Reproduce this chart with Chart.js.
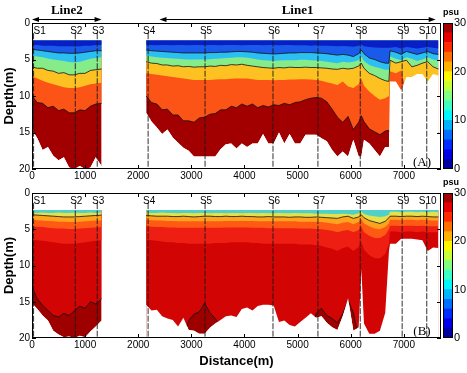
<!DOCTYPE html>
<html>
<head>
<meta charset="utf-8">
<title>Salinity sections</title>
<script src="https://cdn.jsdelivr.net/npm/chart.js@4.4.1/dist/chart.umd.min.js"></script>
<style>
  body { margin: 0; background: #fff; }
  #wrap { position: relative; width: 467px; height: 373px; overflow: hidden; }
  #wrap canvas { position: absolute; }
</style>
</head>
<body>
<div id="wrap">
  <canvas id="sectionA" width="442" height="182" style="left:0px;top:0px"></canvas>
  <canvas id="barA" width="26" height="182" style="left:441px;top:0px"></canvas>
  <canvas id="sectionB" width="442" height="193" style="left:0px;top:180px"></canvas>
  <canvas id="barB" width="26" height="193" style="left:441px;top:180px"></canvas>
</div>
<script>
// stations and axes
const stationNames = ["S1", "S2", "S3", "S4", "S5", "S6", "S7", "S8", "S9", "S10"];
const stationDist = [30, 815, 1228, 2186, 3258, 4537, 5383, 6180, 6969, 7432];
const stationTop = 1.4;
const distTicks = [0, 1000, 2000, 3000, 4000, 5000, 6000, 7000];
const depthTicks = [0, 5, 10, 15, 20];
const psuTicks = [0, 10, 20, 30];
const psuEdges = [0, 2, 4, 6, 8, 10, 12, 14, 16, 18, 20, 22, 24, 26, 28, 30];
const lineNames = ["Line2", "Line1"];
const lineSpans = [[0, 1310], [2400, 7600]];

// sample positions along each line (m)
const line2Dist = [0, 100, 200, 300, 400, 500, 600, 700, 800, 900, 1000, 1100, 1200, 1310];
const line1Dist = [
  2150, 2250, 2350, 2450, 2550, 2650, 2750, 2850, 2950, 3050,
  3150, 3250, 3350, 3450, 3550, 3650, 3750, 3850, 3950, 4050,
  4150, 4250, 4350, 4450, 4550, 4650, 4750, 4850, 4950, 5050,
  5150, 5250, 5350, 5450, 5550, 5650, 5750, 5850, 5950, 6050,
  6150, 6200, 6250, 6350, 6450, 6550, 6650, 6720, 6740, 6850,
  6950, 7050, 7150, 7250, 7350, 7450, 7550, 7650,
];

// top of the data (m)
const topA = 2.4;
const topB = 2.35;

// (A) lower edge depth of each salinity band, Line2
const a2Navy = [3.0, 3.0, 3.1, 3.1, 3.1, 3.2, 3.2, 3.2, 3.2, 3.2, 3.1, 3.1, 3.0, 3.0];
const a2Blue = [3.6, 3.7, 3.8, 3.9, 4.0, 4.1, 4.1, 4.15, 4.15, 4.1, 4.0, 3.9, 3.8, 3.8];
const a2Cyan = [4.5, 4.6, 4.7, 4.85, 5.0, 5.1, 5.2, 5.35, 5.4, 5.3, 5.1, 4.9, 4.8, 4.7];
const a2Green = [6.0, 6.2, 6.2, 6.5, 6.6, 6.9, 6.8, 7.1, 7.1, 6.9, 6.9, 6.5, 6.4, 6.3];
const a2Yellow = [7.3, 7.6, 7.9, 8.2, 8.4, 8.6, 8.8, 8.9, 8.9, 8.8, 8.6, 8.4, 8.3, 8.2];
const a2Orange = [10.0, 10.9, 11.0, 11.6, 11.4, 12.0, 11.8, 12.3, 12.3, 11.9, 12.0, 11.4, 11.1, 11.0];
const a2Bottom = [14.6, 15.8, 17.4, 17.0, 18.2, 18.8, 18.4, 19.8, 20, 19.6, 20, 19.8, 18.4, 19.6];

// (A) Line1
const a1Navy = [
  3.0, 3.0, 3.05, 3.0, 3.0, 3.05, 3.0, 3.0, 3.05, 3.0,
  3.0, 3.05, 3.0, 3.0, 3.05, 3.0, 3.0, 3.0, 3.05, 3.0,
  3.0, 3.0, 3.05, 3.0, 3.0, 3.05, 3.0, 3.0, 3.05, 3.05,
  3.05, 3.1, 3.05, 3.1, 3.1, 3.15, 3.2, 3.15, 3.2, 3.25,
  3.1, 2.95, 3.2, 3.3, 3.35, 3.4, 3.4, 3.4, 3.4, 3.3,
  3.5, 3.3, 3.4, 3.5, 3.4, 3.3, 3.4, 3.5,
];
const a1Blue = [
  3.7, 3.8, 3.85, 3.9, 3.95, 4.0, 4.05, 4.1, 4.1, 4.1,
  4.1, 4.1, 4.05, 4.05, 4.0, 4.0, 3.95, 3.9, 3.9, 3.95,
  4.0, 4.1, 4.15, 4.2, 4.25, 4.2, 4.15, 4.1, 4.1, 4.05,
  4.05, 4.05, 4.1, 4.15, 4.2, 4.3, 4.4, 4.3, 4.4, 4.6,
  4.2, 3.7, 4.2, 4.8, 5.0, 5.3, 5.5, 5.5, 3.8, 4.0,
  4.3, 3.9, 4.1, 4.3, 4.1, 3.9, 4.2, 4.3,
];
const a1Cyan = [
  4.5, 4.6, 4.7, 4.75, 4.8, 4.85, 4.9, 4.95, 5.0, 5.0,
  5.0, 5.0, 4.95, 4.9, 4.85, 4.8, 4.75, 4.7, 4.7, 4.75,
  4.85, 5.0, 5.1, 5.15, 5.2, 5.15, 5.1, 5.1, 5.1, 5.05,
  5.05, 5.1, 5.15, 5.2, 5.3, 5.4, 5.5, 5.3, 5.4, 5.3,
  5.1, 4.6, 5.2, 5.75, 6.0, 6.2, 6.4, 6.4, 4.6, 4.9,
  5.1, 4.7, 4.9, 5.2, 5.0, 4.7, 5.0, 5.2,
];
const a1Green = [
  5.3, 5.5, 5.55, 5.75, 5.75, 5.9, 5.85, 6.0, 5.95, 6.05,
  6.0, 6.0, 5.9, 5.95, 5.8, 5.85, 5.7, 5.75, 5.65, 5.8,
  5.9, 6.0, 6.1, 6.15, 6.2, 6.1, 6.15, 6.05, 6.1, 6.1,
  6.05, 6.1, 6.1, 6.15, 6.2, 6.3, 6.35, 6.2, 6.3, 6.2,
  5.9, 5.5, 6.2, 6.9, 7.2, 7.6, 7.9, 8.0, 5.1, 5.5,
  5.3, 5.1, 6.0, 5.8, 5.5, 5.3, 6.0, 6.3,
];
const a1Yellow = [
  6.9, 7.0, 7.1, 7.2, 7.3, 7.4, 7.5, 7.6, 7.7, 7.8,
  7.8, 7.8, 7.8, 7.75, 7.7, 7.7, 7.65, 7.6, 7.6, 7.6,
  7.7, 7.8, 7.8, 7.8, 7.85, 7.8, 7.8, 7.75, 7.75, 7.7,
  7.7, 7.75, 7.8, 7.9, 8.1, 8.3, 8.5, 8.0, 8.7, 8.9,
  8.4, 7.6, 8.6, 9.4, 10.0, 10.5, 10.3, 10.0, 6.6, 6.9,
  6.5, 9.5, 9.5, 9.5, 9.5, 9.5, 9.5, 9.5,
];
const a1Orange = [
  10.0, 10.9, 11.1, 11.9, 11.8, 12.6, 12.6, 13.4, 13.4, 13.6,
  13.0, 12.9, 12.5, 12.4, 11.9, 11.9, 11.4, 11.6, 11.1, 11.4,
  11.1, 11.6, 11.3, 11.5, 11.2, 11.3, 11.0, 11.2, 10.9, 10.8,
  10.5, 10.3, 10.2, 10.3, 10.8, 11.8, 12.9, 13.6, 12.8, 14.6,
  13.6, 12.7, 13.5, 14.5, 14.9, 15.3, 14.8, 14.7, 15, 15,
  15, 15, 15, 15, 15, 15, 15, 15,
];
const a1Bottom = [
  12.3, 13.5, 14.3, 15.2, 14.6, 15.7, 16.4, 17.1, 17.5, 18.3,
  18.3, 18.3, 18.3, 18.3, 17.3, 16.6, 16.5, 17.2, 16.5, 17.0,
  16.5, 16.5, 15.2, 16.5, 16.5, 15.0, 16.5, 15.2, 16.5, 16.5,
  15.3, 15.3, 15.3, 15.8, 16.2, 17.4, 18.3, 17.6, 18.3, 16.0,
  18.3, 18.3, 16.0, 16.5, 17.4, 18.3, 17.0, 17.0, 8.0, 8.0,
  9.2, 7.4, 7.4, 7.0, 7.0, 8.0, 7.0, 7.2,
];

// (B) Line2
const b2Cyan = [2.7, 2.75, 2.7, 2.75, 2.75, 2.7, 2.75, 2.75, 2.7, 2.75, 2.75, 2.7, 2.75, 2.7];
const b2Yellow = [3.0, 3.05, 3.1, 3.15, 3.2, 3.25, 3.3, 3.3, 3.3, 3.25, 3.2, 3.15, 3.1, 3.05];
const b2Orange = [3.7, 3.75, 3.8, 3.85, 3.9, 3.95, 3.95, 4.0, 4.0, 3.95, 3.9, 3.85, 3.8, 3.8];
const b2Red1 = [4.6, 4.65, 4.7, 4.8, 4.85, 4.9, 4.9, 4.95, 4.95, 4.9, 4.85, 4.8, 4.75, 4.7];
const b2Red2 = [6.4, 6.5, 6.6, 6.7, 6.8, 6.9, 7.0, 7.0, 7.0, 6.9, 6.8, 6.7, 6.6, 6.5];
const b2Red3 = [13.0, 14.6, 15.5, 16.2, 16.9, 17.1, 16.6, 16.9, 16.2, 15.6, 15.9, 15.0, 15.3, 14.6];
const b2Bottom = [15.2, 16.0, 16.9, 17.6, 19.0, 19.5, 19.9, 19.8, 20, 19.7, 19.9, 19.1, 18.4, 17.6];

// (B) Line1
const b1Cyan = [
  2.7, 2.75, 2.75, 2.7, 2.75, 2.75, 2.8, 2.75, 2.75, 2.8,
  2.75, 2.75, 2.8, 2.75, 2.75, 2.8, 2.75, 2.75, 2.8, 2.75,
  2.75, 2.8, 2.75, 2.8, 2.8, 2.75, 2.8, 2.8, 2.75, 2.8,
  2.8, 2.8, 2.85, 2.85, 2.85, 2.9, 2.9, 2.85, 2.9, 3.0,
  2.8, 2.6, 2.9, 3.1, 3.2, 3.3, 3.2, 3.0, 2.6, 2.6,
  2.65, 2.6, 2.6, 2.65, 2.6, 2.65, 2.6, 2.65,
];
const b1Yellow = [
  3.1, 3.15, 3.2, 3.2, 3.2, 3.25, 3.25, 3.2, 3.25, 3.3,
  3.25, 3.2, 3.2, 3.25, 3.25, 3.2, 3.25, 3.25, 3.2, 3.25,
  3.25, 3.3, 3.3, 3.25, 3.3, 3.3, 3.3, 3.35, 3.3, 3.3,
  3.35, 3.35, 3.3, 3.35, 3.4, 3.45, 3.5, 3.3, 3.2, 3.5,
  3.3, 3.0, 3.4, 3.8, 4.0, 4.2, 3.9, 3.4, 3.2, 3.2,
  3.25, 3.2, 3.2, 3.25, 3.2, 3.25, 3.3, 3.3,
];
const b1Orange = [
  3.7, 3.75, 3.8, 3.8, 3.85, 3.85, 3.9, 3.9, 3.9, 3.9,
  3.9, 3.9, 3.9, 3.9, 3.9, 3.85, 3.85, 3.85, 3.85, 3.85,
  3.85, 3.9, 3.9, 3.9, 3.9, 3.9, 3.9, 3.9, 3.9, 3.95,
  3.95, 3.95, 3.95, 4.0, 4.1, 4.2, 4.3, 4.1, 4.0, 4.3,
  4.0, 3.6, 4.2, 4.6, 4.9, 5.0, 4.7, 4.2, 3.7, 3.7,
  3.75, 3.7, 3.7, 3.75, 3.7, 3.75, 3.8, 3.8,
];
const b1Red1 = [
  4.6, 4.65, 4.7, 4.7, 4.75, 4.75, 4.8, 4.8, 4.8, 4.8,
  4.8, 4.8, 4.8, 4.8, 4.8, 4.75, 4.75, 4.75, 4.75, 4.75,
  4.8, 4.8, 4.8, 4.85, 4.85, 4.85, 4.85, 4.85, 4.85, 4.9,
  4.9, 4.9, 4.95, 5.0, 5.1, 5.2, 5.4, 5.2, 5.1, 5.4,
  5.1, 4.6, 5.4, 5.9, 6.2, 6.2, 5.8, 5.0, 4.5, 4.5,
  4.55, 4.5, 4.5, 4.55, 4.5, 4.6, 4.6, 4.6,
];
const b1Red2 = [
  6.4, 6.5, 6.6, 6.7, 6.8, 6.8, 6.9, 6.9, 7.0, 7.0,
  7.0, 7.0, 7.0, 6.9, 6.9, 6.9, 6.8, 6.8, 6.8, 6.8,
  6.9, 6.9, 7.0, 7.0, 7.0, 7.0, 7.0, 7.0, 7.0, 7.1,
  7.1, 7.1, 7.2, 7.3, 7.5, 7.7, 8.0, 7.6, 7.4, 8.0,
  7.4, 6.8, 7.8, 8.6, 9.0, 9.0, 8.4, 7.0, 5.3, 5.3,
  5.4, 5.3, 5.3, 5.4, 5.3, 5.4, 5.4, 5.4,
];
const b1Red3 = [
  20, 20, 20, 20, 20, 20, 20, 20, 17.6, 16.7,
  16.4, 15.2, 16.5, 17.3, 18.5, 20, 20, 20, 20, 20,
  20, 20, 20, 20, 20, 20, 20, 20, 20, 20,
  20, 20, 16.6, 15.9, 16.9, 17.3, 17.9, 16.7, 14.8, 16.5,
  20, 20, 20, 20, 20, 20, 20, 20, 20, 20,
  20, 20, 20, 20, 20, 20, 20, 20,
];
const b1Bottom = [
  15.4, 16.2, 16.1, 17.0, 17.3, 17.5, 18.4, 17.2, 18.9, 19.0,
  19.4, 19.4, 18.6, 18.0, 17.5, 17.0, 16.9, 17.1, 16.0, 15.8,
  16.2, 15.6, 15.4, 15.4, 15.5, 17.8, 17.6, 18.2, 18.4, 17.8,
  17.2, 16.6, 17.2, 17.0, 17.9, 18.5, 18.9, 17.0, 14.5, 19.0,
  18.5, 10.5, 18.0, 19.4, 19.4, 19.0, 16.5, 8.0, 7.0, 7.0,
  6.3, 6.3, 6.3, 6.4, 6.5, 8.0, 7.5, 7.6,
];

// styles
const colorsA = ["#0a1ec8", "#1a5ae8", "#2cbff2", "#86ec8a", "#fdc222", "#fb5416", "#a20000"];
const colorsB = ["#4fd0c8", "#e6e04a", "#ffa21e", "#ff5a14", "#ee1e12", "#d20404", "#9e0000"];
const contoursA = [false, true, false, true, false, true];
const contoursB = [false, true, false, false, false, true];
const jetColors = [
  "#0000a1", "#0000e6", "#002bff", "#006eff", "#00b3ff", "#00f7ff", "#3bffc3", "#80ff80",
  "#c3ff3b", "#fff700", "#ffb300", "#ff6e00", "#ff2b00", "#e60000", "#a10000",
];
const sans = "'Liberation Sans', Arial, sans-serif";
const serif = "'Liberation Serif', 'Times New Roman', serif";
const clear = "rgba(0,0,0,0)";

function pts(dist, arr) {
  return dist.map((d, i) => ({ x: d, y: arr[i] }));
}

function panelSets(segs, top, colors, contours) {
  const sets = [];
  // station lines on top
  stationDist.forEach((s, i) => {
    sets.push({
      label: stationNames[i],
      data: [{ x: s, y: stationTop }, { x: s, y: 20 }],
      borderColor: "#1a1a1a",
      borderWidth: 0.9,
      borderDash: [6, 1.5],
      fill: false,
    });
  });
  // white below the sea bed
  segs.forEach((g) => {
    sets.push({ data: pts(g.dist, g.bottom), borderColor: clear, backgroundColor: "#fff", fill: { value: 20 } });
  });
  // salinity bands, shallow first so they sit above the deeper ones
  contours.forEach((isLine, k) => {
    segs.forEach((g) => {
      sets.push({
        data: pts(g.dist, g.bounds[k]),
        borderColor: isLine ? "#111" : clear,
        borderWidth: 0.8,
        backgroundColor: colors[k],
        fill: { value: top },
      });
    });
  });
  segs.forEach((g) => {
    sets.push({
      data: pts(g.dist, g.bottom),
      borderColor: clear,
      backgroundColor: colors[colors.length - 1],
      fill: { value: top },
    });
  });
  return sets;
}

function drawArrow(ctx, x0, x1, yy) {
  ctx.lineWidth = 1;
  ctx.beginPath();
  ctx.moveTo(x0 + 3, yy);
  ctx.lineTo(x1 - 3, yy);
  ctx.stroke();
  ctx.beginPath();
  ctx.moveTo(x0, yy);
  ctx.lineTo(x0 + 7, yy - 2.5);
  ctx.lineTo(x0 + 7, yy + 2.5);
  ctx.closePath();
  ctx.moveTo(x1, yy);
  ctx.lineTo(x1 - 7, yy - 2.5);
  ctx.lineTo(x1 - 7, yy + 2.5);
  ctx.closePath();
  ctx.fill();
}

const framePlugin = {
  id: "frame",
  afterDraw(chart, args, o) {
    const { ctx, chartArea: a } = chart;
    const x = chart.scales.x;
    const y = chart.scales.y;
    ctx.save();
    ctx.strokeStyle = "#000";
    ctx.fillStyle = "#000";
    ctx.lineWidth = 1;
    ctx.strokeRect(a.left + 0.5, a.top + 0.5, a.width - 1, a.height - 1);
    ctx.beginPath();
    distTicks.forEach((v) => {
      const px = Math.round(x.getPixelForValue(v)) + 0.5;
      ctx.moveTo(px, a.bottom);
      ctx.lineTo(px, a.bottom - 4);
      ctx.moveTo(px, a.top);
      ctx.lineTo(px, a.top + 4);
    });
    depthTicks.forEach((v) => {
      const py = Math.round(y.getPixelForValue(v)) + 0.5;
      ctx.moveTo(a.left, py);
      ctx.lineTo(a.left + 4, py);
      ctx.moveTo(a.right, py);
      ctx.lineTo(a.right - 4, py);
    });
    ctx.stroke();

    ctx.font = "10px " + sans;
    stationNames.forEach((s, i) => {
      const px = x.getPixelForValue(stationDist[i]);
      ctx.textAlign = i === 0 ? "left" : "center";
      ctx.fillText(s, i === 0 ? px : px + 1, a.top + 10.5);
    });

    ctx.font = "13px " + serif;
    ctx.textAlign = "center";
    ctx.fillText(o.tag, a.right - 19, a.bottom - 3);

    if (o.header) {
      ctx.font = "bold 13px " + serif;
      lineNames.forEach((n, i) => {
        const x0 = x.getPixelForValue(lineSpans[i][0]);
        const x1 = x.getPixelForValue(lineSpans[i][1]);
        ctx.fillText(n, (x0 + x1) / 2, 13.5);
        drawArrow(ctx, x0, x1, 19.5);
      });
    }
    ctx.restore();
  },
};

const barFrame = {
  id: "barFrame",
  afterDraw(chart) {
    const { ctx, chartArea: a } = chart;
    ctx.save();
    ctx.strokeStyle = "#000";
    ctx.lineWidth = 1;
    ctx.strokeRect(a.left + 0.5, a.top + 0.5, a.width - 1, a.height - 1);
    ctx.fillStyle = "#000";
    ctx.font = "bold 9px " + sans;
    ctx.textAlign = "center";
    ctx.fillText("psu", (a.left + a.right) / 2 + 3, a.top - 8);
    ctx.restore();
  },
};

function sectionChart(id, segs, top, colors, contours, o) {
  return new Chart(document.getElementById(id), {
    type: "line",
    data: { datasets: panelSets(segs, top, colors, contours) },
    options: {
      responsive: false,
      animation: false,
      events: [],
      layout: { padding: { top: o.padTop, right: 1, left: 0, bottom: 0 } },
      elements: { point: { radius: 0 }, line: { tension: 0 } },
      plugins: {
        legend: { display: false },
        tooltip: { enabled: false },
        frame: { tag: o.tag, header: o.header },
      },
      scales: {
        x: {
          type: "linear",
          min: 0,
          max: 7700,
          afterBuildTicks: (s) => {
            s.ticks = distTicks.map((v) => ({ value: v }));
          },
          afterFit: (s) => {
            s.height = o.axisHeight;
          },
          grid: { display: false, drawTicks: false },
          border: { display: false },
          ticks: {
            padding: 1,
            color: "#000",
            font: { family: sans, size: 10 },
            maxRotation: 0,
            autoSkip: false,
            callback: (v) => String(v),
          },
          title: {
            display: !!o.xTitle,
            text: o.xTitle || "",
            color: "#000",
            font: { family: sans, size: 13, weight: "bold" },
            padding: { top: 0, bottom: 4 },
          },
        },
        y: {
          type: "linear",
          reverse: true,
          min: 0,
          max: 20,
          afterBuildTicks: (s) => {
            s.ticks = depthTicks.map((v) => ({ value: v }));
          },
          afterFit: (s) => {
            s.width = 32;
          },
          grid: { display: false, drawTicks: false },
          border: { display: false },
          ticks: { padding: 2, color: "#000", font: { family: sans, size: 10 }, autoSkip: false },
          title: {
            display: true,
            text: "Depth(m)",
            color: "#000",
            font: { family: sans, size: 13, weight: "bold" },
            padding: { top: 2, bottom: 0 },
          },
        },
      },
    },
    plugins: [framePlugin],
  });
}

function colorbar(id, padTop, padBottom) {
  return new Chart(document.getElementById(id), {
    type: "bar",
    data: {
      labels: ["psu"],
      datasets: jetColors.map((c, i) => ({
        data: [[psuEdges[i], psuEdges[i + 1]]],
        backgroundColor: c,
        borderWidth: 0,
        barPercentage: 1,
        categoryPercentage: 1,
        grouped: false,
      })),
    },
    options: {
      responsive: false,
      animation: false,
      events: [],
      layout: { padding: { left: 2, top: padTop, bottom: padBottom, right: 0 } },
      plugins: { legend: { display: false }, tooltip: { enabled: false } },
      scales: {
        x: { display: false },
        y: {
          position: "right",
          min: 0,
          max: 30,
          afterBuildTicks: (s) => {
            s.ticks = psuTicks.map((v) => ({ value: v }));
          },
          afterFit: (s) => {
            s.width = 14;
          },
          grid: { display: false, drawTicks: false },
          border: { display: false },
          ticks: { padding: 1, color: "#000", font: { family: sans, size: 11 } },
        },
      },
    },
    plugins: [barFrame],
  });
}

sectionChart(
  "sectionA",
  [
    { dist: line2Dist, bounds: [a2Navy, a2Blue, a2Cyan, a2Green, a2Yellow, a2Orange], bottom: a2Bottom },
    { dist: line1Dist, bounds: [a1Navy, a1Blue, a1Cyan, a1Green, a1Yellow, a1Orange], bottom: a1Bottom },
  ],
  topA,
  colorsA,
  contoursA,
  { padTop: 23, axisHeight: 13, tag: "(A)", header: true }
);

sectionChart(
  "sectionB",
  [
    { dist: line2Dist, bounds: [b2Cyan, b2Yellow, b2Orange, b2Red1, b2Red2, b2Red3], bottom: b2Bottom },
    { dist: line1Dist, bounds: [b1Cyan, b1Yellow, b1Orange, b1Red1, b1Red2, b1Red3], bottom: b1Bottom },
  ],
  topB,
  colorsB,
  contoursB,
  { padTop: 13, axisHeight: 35, tag: "(B)", header: false, xTitle: "Distance(m)" }
);

colorbar("barA", 23, 13);
colorbar("barB", 13, 35);
</script>
</body>
</html>
